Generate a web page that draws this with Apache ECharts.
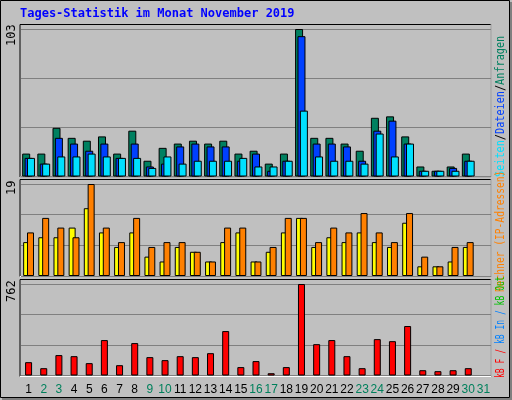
<!DOCTYPE html>
<html><head><meta charset="utf-8">
<script src="https://cdn.jsdelivr.net/npm/echarts@6/dist/echarts.min.js"></script>
<style>html,body{margin:0;padding:0;background:#c0c0c0}#c{width:512px;height:400px}</style>
</head><body><div id="c"></div>
<script>
const days = Array.from({length:31},(_,i)=>String(i+1));
const weekendDays = ['2','3','9','10','16','17','23','24','30','31'];
const hits  = [16,16,34,27,25,28,16,32,11,20,23,25,23,25,16,18,9,16,103,27,27,23,18,41,42,28,7,4,7,16,null];
const files = [13,9,27,23,18,23,13,23,7,9,21,23,21,21,11,16,4,11,98,23,23,21,11,32,39,23,4,4,6,11,null];
const pages = [13,9,14,14,16,14,13,13,6,14,9,11,11,11,13,7,7,11,46,14,11,11,9,30,14,23,4,4,4,11,null];
const visits= [7,8,8,10,14,9,6,9,4,3,6,5,3,7,9,3,5,9,12,6,8,7,9,7,6,11,2,2,3,6,null];
const sites = [9,12,10,8,19,10,7,12,6,7,7,5,3,10,10,3,6,12,12,7,10,9,13,9,7,13,4,2,6,7,null];
const kbytes= [111,61,170,161,103,295,86,270,153,128,161,153,186,370,70,120,19,70,762,261,295,161,61,303,286,412,44,36,44,61,null];
const maxLabels = ['103','19','762'];
const maxes = [103,19,762];

const chart = echarts.init(document.getElementById('c'));
const font = 'DejaVu Sans Mono';
const bs = {borderColor:'#000',borderWidth:1};
function frame(y,h){return {type:'rect',shape:{x:20,y:y,width:471,height:h},style:{fill:'none',stroke:'#000',lineWidth:1},z:-1,silent:true};}
function frameHi(y,h){return {type:'polyline',shape:{points:[[491,y],[491,y+h],[20,y+h]]},style:{stroke:'#fff',lineWidth:1,fill:'none'},silent:true};}
const grids=[{left:21,width:470,top:29,height:147.5},{left:21,width:470,top:184,height:92},{left:21,width:470,top:284,height:91.5}];
const yAx = maxes.map((m,i)=>({gridIndex:i,min:0,max:m,interval:m/3,axisLabel:{show:false},axisLine:{show:false},axisTick:{show:false},splitLine:{show:true,lineStyle:{color:'#808080',width:1}}}));
const xAx = [0,1,2].map(i=>({type:'category',gridIndex:i,data:days,axisLine:{show:false},axisTick:{show:false},
  axisLabel:{show:i===2,interval:0,margin:8,fontFamily:'Liberation Sans',fontSize:12,color:(v)=>weekendDays.includes(v)?'#00805c':'#000'}}));
const f12 = '12px '+font;
chart.setOption({
  animation:false,
  backgroundColor:'#c0c0c0',
  grid:grids, xAxis:xAx, yAxis:yAx,
  series:[
    {type:'bar',xAxisIndex:0,yAxisIndex:0,data:hits,barWidth:8,barGap:'-70%',itemStyle:{color:'#008060',...bs}},
    {type:'bar',xAxisIndex:0,yAxisIndex:0,data:files,barWidth:8,barGap:'-70%',itemStyle:{color:'#0040ff',...bs}},
    {type:'bar',xAxisIndex:0,yAxisIndex:0,data:pages,barWidth:8,barGap:'-70%',itemStyle:{color:'#00e0ff',...bs}},
    {type:'bar',xAxisIndex:1,yAxisIndex:1,data:visits,barWidth:7,barGap:'-45%',itemStyle:{color:'#ffff00',...bs}},
    {type:'bar',xAxisIndex:1,yAxisIndex:1,data:sites,barWidth:7,barGap:'-45%',itemStyle:{color:'#ff8000',...bs}},
    {type:'bar',xAxisIndex:2,yAxisIndex:2,data:kbytes,barWidth:7,itemStyle:{color:'#ff0000',...bs}}
  ],
  graphic:[
    {type:'rect',shape:{x:0.5,y:0.5,width:509,height:397},style:{fill:'none',stroke:'#000',lineWidth:1},silent:true},
    {type:'polyline',shape:{points:[[511,2],[511,399],[2,399]]},style:{stroke:'#808080',lineWidth:2,fill:'none'},silent:true},
    frame(24.5,152.5),frame(179.5,97),frame(279.5,97),
    frameHi(24.5,152.5),frameHi(179.5,97),frameHi(279.5,97),
    {type:'text',x:20,y:8,style:{text:'Tages-Statistik im Monat November 2019',fill:'#0000ff',font:'bold 12px '+font}},
    {type:'text',x:6,y:46,rotation:Math.PI/2,style:{text:maxLabels[0],fill:'#000',font:f12}},
    {type:'text',x:6,y:195,rotation:Math.PI/2,style:{text:maxLabels[1],fill:'#000',font:f12}},
    {type:'text',x:6,y:302,rotation:Math.PI/2,style:{text:maxLabels[2],fill:'#000',font:f12}},
    {type:'text',x:495,y:177,rotation:Math.PI/2,scaleX:0.85,style:{font:f12,
      rich:{a:{fill:'#00e0ff',font:f12},b:{fill:'#000',font:f12},c:{fill:'#0040ff',font:f12},d:{fill:'#008060',font:f12}},
      text:'{a|Seiten}{b|/}{c|Dateien}{b|/}{d|Anfragen}'}},
    {type:'text',x:495,y:292,rotation:Math.PI/2,scaleX:0.8,style:{font:f12,
      rich:{y:{fill:'#ffff00',font:f12},o:{fill:'#ff8000',font:f12}},
      text:'{o|Rechner (IP-Adressen)}'}},
    {type:'text',x:495,y:378,rotation:Math.PI/2,scaleX:0.67,style:{font:f12,
      rich:{r:{fill:'#ff0000',font:f12},bl:{fill:'#0080ff',font:f12},g:{fill:'#00c000',font:f12}},
      text:'{r|kB F / }{bl|kB In / }{g|kB Out}'}}
  ]
});
</script></body></html>
